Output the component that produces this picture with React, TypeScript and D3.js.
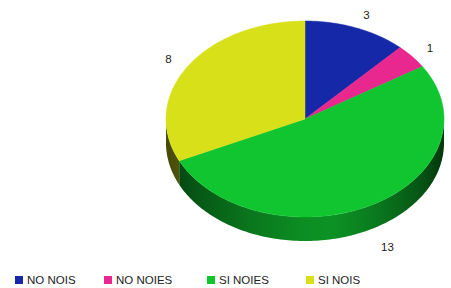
import React from "react";
import * as d3 from "d3";

const categories = ["NO NOIS", "NO NOIES", "SI NOIES", "SI NOIS"];
const values = [3, 1, 13, 8];
const colors = ["#1428a8", "#e8288e", "#10c530", "#d8e01a"];

const W = 451, H = 288;
const cx = 305, cy = 119, rx = 139, ry = 98, depth = 24;
const legendX = [15, 104, 207, 306];

function pt(a: number, dy = 0): [number, number] {
  return [cx + rx * Math.sin(a), cy - ry * Math.cos(a) + dy];
}

function arcPts(a0: number, a1: number, dy = 0) {
  const n = Math.max(2, Math.ceil(Math.abs(a1 - a0) / 0.02));
  return d3.range(n + 1).map((i) => pt(a0 + ((a1 - a0) * i) / n, dy));
}

const line = d3.line();

export default function App() {
  const pie = d3.pie<number>().sort(null).value((d) => d)(values);
  const shade = (c: string, k: number) => {
    const col = d3.rgb(c);
    return d3.rgb(col.r * k, col.g * k, col.b * k).formatHex();
  };
  const stops = [
    [0, 0.32], [0.12, 0.45], [0.3, 0.6], [0.5, 0.72], [0.6, 0.74], [0.75, 0.62], [0.9, 0.45], [1, 0.28],
  ];
  return (
    <svg width={W} height={H} style={{ position: "absolute", left: 0, top: 0 }}>
      <defs>
        {colors.map((c, i) => (
          <linearGradient key={i} id={`side${i}`} gradientUnits="userSpaceOnUse" x1={cx - rx} x2={cx + rx} y1={0} y2={0}>
            {stops.map(([o, k], j) => (
              <stop key={j} offset={o} stopColor={shade(c, k)} />
            ))}
          </linearGradient>
        ))}
      </defs>
      {pie.map((s, i) => {
        const a0 = Math.max(s.startAngle, Math.PI / 2);
        const a1 = Math.min(s.endAngle, (3 * Math.PI) / 2);
        if (a1 <= a0) return null;
        const top = arcPts(a0, a1);
        const bot = arcPts(a1, a0, depth);
        return <path key={"s" + i} d={line([...top, ...bot]) + "Z"} fill={`url(#side${i})`} />;
      })}
      {pie.map((s, i) => {
        const pts = [[cx, cy] as [number, number], ...arcPts(s.startAngle, s.endAngle)];
        return <path key={"t" + i} d={line(pts) + "Z"} fill={colors[i]} stroke={colors[i]} strokeWidth={0.5} />;
      })}
      {pie.map((s, i) => {
        const m = (s.startAngle + s.endAngle) / 2;
        const c = Math.cos(m);
        const sn = Math.sin(m);
        const x = cx + 158 * sn;
        const y = cy - 112 * c + (c < 0 ? depth + 6 : 0);
        return (
          <text key={"l" + i} x={x} y={y} textAnchor={sn >= 0 ? "start" : "end"} dominantBaseline="central"
            fontFamily="Liberation Sans, Arial, sans-serif" fontSize={11.5} fill="#222">
            {values[i]}
          </text>
        );
      })}
      {categories.map((c, i) => (
        <g key={"g" + i}>
          <rect x={legendX[i]} y={276} width={8} height={8} fill={colors[i]} />
          <text x={legendX[i] + 12} y={284} fontFamily="Liberation Sans, Arial, sans-serif" fontSize={11.5} fill="#222">
            {c}
          </text>
        </g>
      ))}
    </svg>
  );
}
